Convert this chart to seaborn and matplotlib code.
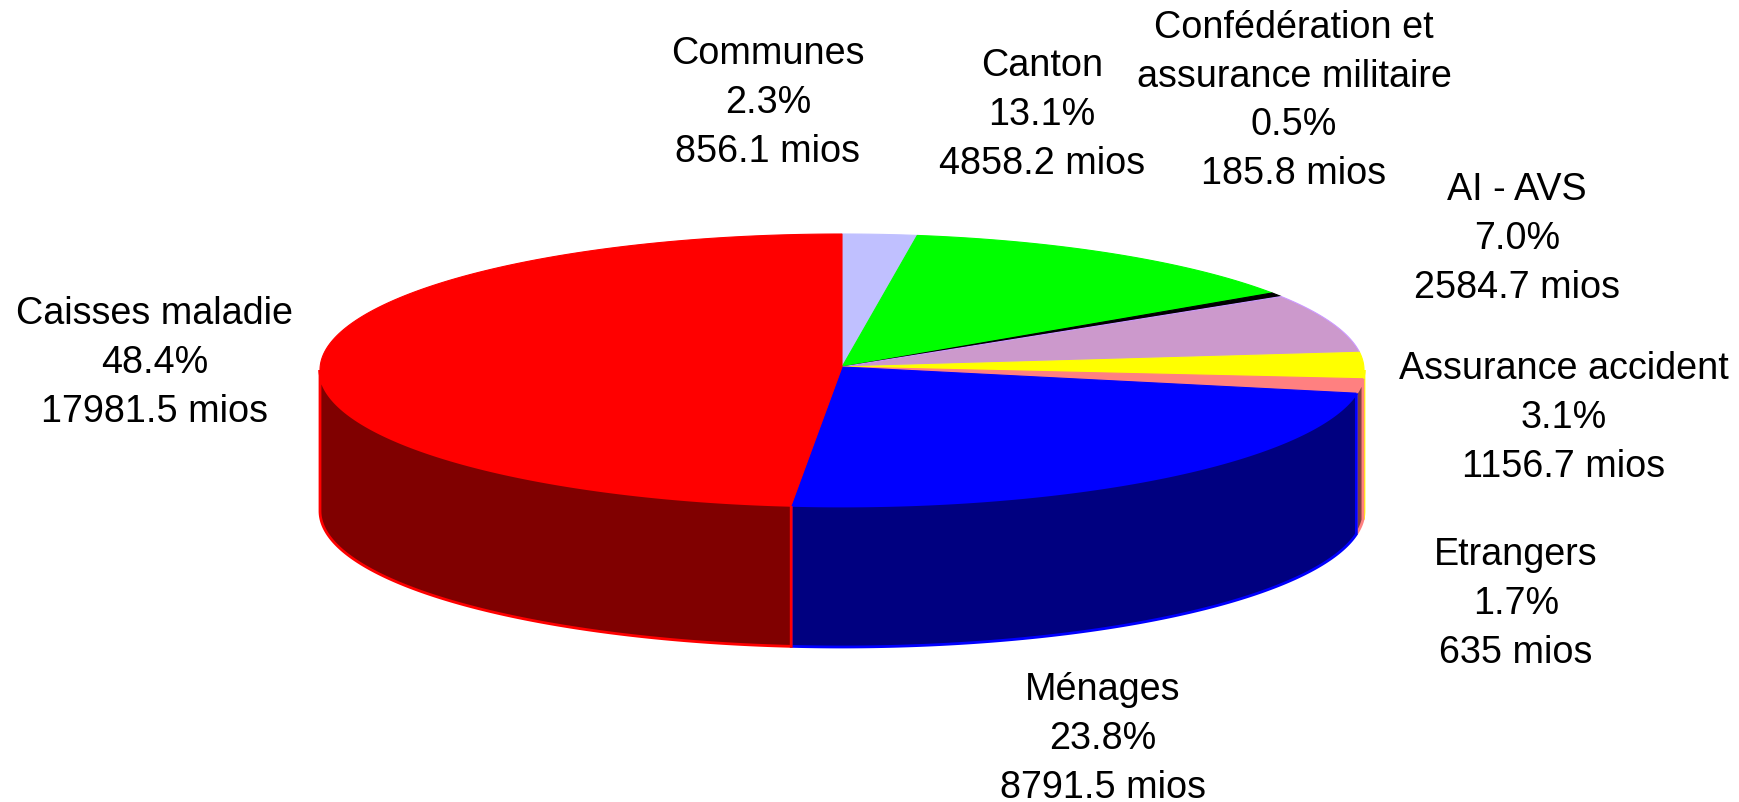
import numpy as np
import matplotlib
matplotlib.use("Agg")
import matplotlib.pyplot as plt
import seaborn as sns

names = ["Communes", "Canton", "Confédération et\nassurance militaire", "AI - AVS",
         "Assurance accident", "Etrangers", "Ménages", "Caisses maladie"]
percents = ["2.3%", "13.1%", "0.5%", "7.0%", "3.1%", "1.7%", "23.8%", "48.4%"]
amounts = ["856.1", "4858.2", "185.8", "2584.7", "1156.7", "635", "8791.5", "17981.5"]
shares = [2.3, 13.1, 0.5, 7.0, 3.1, 1.7, 23.8, 48.4]

top_colors = ["#C0C0FF", "#00FF00", "#000000", "#CC99CC", "#FFFF00", "#FF8080", "#0000FF", "#FF0000"]
edge_colors = ["#C0C0FF", "#00FF00", "#000000", "#CC99FF", "#FFFF00", "#FF8080", "#0000FF", "#FF0000"]
wall_colors = ["#606080", "#008000", "#000000", "#664C66", "#FFFF00", "#804040", "#000080", "#800000"]

W, H = 1740, 803
CX, CY, RX, RY, DEPTH = 842.0, 371.0, 522.0, 136.0, 141.0
APEX_UP = 3.0

sns.set_theme(style="white")
plt.rcParams["font.family"] = ["Liberation Sans", "DejaVu Sans"]

fig = plt.figure(figsize=(W / 100, H / 100), dpi=100, facecolor="white")
ax = fig.add_axes([0, 0, 1, 1])
ax.set_xlim(-CX / RX, (W - CX) / RX)
ax.set_ylim(-(H - CY) / RY, CY / RY)
ax.axis("off")

palette = sns.color_palette(top_colors)
bounds = np.cumsum([0] + shares) / np.sum(shares) * 360
depth = DEPTH / RY
apex = APEX_UP / RY

# side wall: only the part of each slice on the front half of the disc
for i, (a, b) in enumerate(zip(bounds[:-1], bounds[1:])):
    lo, hi = max(a, 90), min(b, 270)
    if hi <= lo:
        continue
    t = np.radians(np.linspace(lo, hi, 200))
    xs, ys = np.sin(t), np.cos(t)
    ax.fill(np.r_[xs, xs[::-1]], np.r_[ys, ys[::-1] - depth],
            facecolor=wall_colors[i], edgecolor=edge_colors[i],
            linewidth=2.0, zorder=2 + i * 0.1)

# top face
for i, (a, b) in enumerate(zip(bounds[:-1], bounds[1:])):
    t = np.radians(np.linspace(a, b, 200))
    ax.fill(np.r_[0, np.sin(t)], np.r_[apex, np.cos(t)],
            facecolor=palette[i], edgecolor=edge_colors[i],
            linewidth=0.8, zorder=5 + i * 0.01)

# label centres in picture pixels
spots = [(768, 103), (1042, 115), (1294, 101), (1517, 239),
         (1564, 418), (1516, 604), (1103, 739), (155, 363)]
for n, p, m, (px, py) in zip(names, percents, amounts, spots):
    fig.text(px / W, 1 - py / H, f"{n}\n{p}\n{m} mios", ha="center", va="center",
             fontsize=27.2, color="black", linespacing=1.45)

fig.savefig("out.png", dpi=100, facecolor="white")
